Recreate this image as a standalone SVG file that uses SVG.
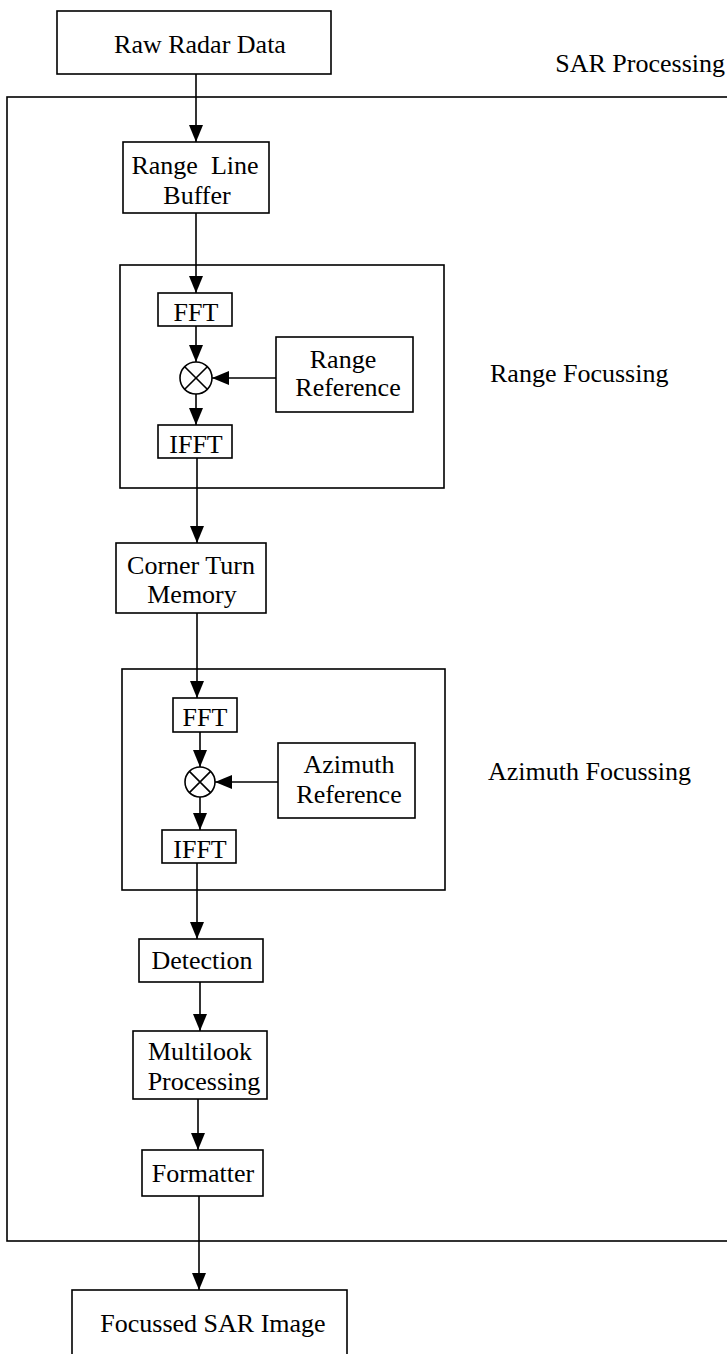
<svg xmlns="http://www.w3.org/2000/svg" width="727" height="1354" viewBox="0 0 727 1354">
<defs>
<marker id="ah" markerWidth="18" markerHeight="14" refX="17" refY="7" orient="auto" markerUnits="userSpaceOnUse">
<path d="M0,0 L17,7 L0,14 Z" fill="#000"/>
</marker>
<style>
.box{fill:#fff;stroke:#000;stroke-width:1.6}
.frame{fill:none;stroke:#000;stroke-width:1.6}
.t{font-family:"Liberation Serif","Times New Roman",serif;font-size:26px;fill:#000;text-anchor:middle}
.tl{font-family:"Liberation Serif","Times New Roman",serif;font-size:26px;fill:#000}
.c{fill:none;stroke:#000;stroke-width:1.6;marker-end:url(#ah)}
.x{fill:#fff;stroke:#000;stroke-width:1.6}
</style>
</defs>
<rect fill="#fff" width="727" height="1354"/>

<g id="sar-processing">
<rect class="frame" x="7" y="97" width="740" height="1144"/>
<text class="tl" x="725" y="72" text-anchor="end">SAR Processing</text>
</g>
<g id="range-focussing">
<rect class="frame" x="120" y="265" width="324" height="223"/>
<text class="tl" x="490" y="382">Range Focussing</text>
</g>
<g id="azimuth-focussing">
<rect class="frame" x="122" y="669" width="323" height="221"/>
<text class="tl" x="488" y="780">Azimuth Focussing</text>
</g>

<g id="connectors">
<path class="c" d="M196,74 V142"/>
<path class="c" d="M196,213 V293"/>
<path class="c" d="M196,326 V362"/>
<path class="c" d="M276,378 H212"/>
<path class="c" d="M196,394 V425"/>
<path class="c" d="M197,458 V543"/>
<path class="c" d="M197,613 V698"/>
<path class="c" d="M200,732 V767"/>
<path class="c" d="M278,782 H215"/>
<path class="c" d="M200,797 V830"/>
<path class="c" d="M197,863 V939"/>
<path class="c" d="M200,982 V1031"/>
<path class="c" d="M198,1099 V1150"/>
<path class="c" d="M199,1196 V1290"/>
</g>

<g id="raw-radar-data">
<rect class="box" x="57" y="11" width="274" height="63"/>
<text class="t" x="200" y="53">Raw Radar Data</text>
</g>
<g id="range-line-buffer">
<rect class="box" x="123" y="142" width="146" height="71"/>
<text class="t" x="195" y="174" xml:space="preserve">Range  Line</text>
<text class="t" x="197" y="204">Buffer</text>
</g>
<g id="fft-range">
<rect class="box" x="158" y="293" width="74" height="33"/>
<text class="t" x="196" y="321">FFT</text>
</g>
<g id="mult-range">
<circle class="x" cx="196" cy="378" r="16"/>
<path d="M184.7,366.7 L207.3,389.3 M207.3,366.7 L184.7,389.3" stroke="#000" stroke-width="1.6"/>
</g>
<g id="range-reference">
<rect class="box" x="276" y="337" width="137" height="75"/>
<text class="t" x="343" y="368">Range</text>
<text class="t" x="348" y="396">Reference</text>
</g>
<g id="ifft-range">
<rect class="box" x="158" y="425" width="74" height="33"/>
<text class="t" x="196" y="453">IFFT</text>
</g>
<g id="corner-turn-memory">
<rect class="box" x="116" y="543" width="150" height="70"/>
<text class="t" x="191" y="574">Corner Turn</text>
<text class="t" x="192" y="603">Memory</text>
</g>
<g id="fft-azimuth">
<rect class="box" x="173" y="698" width="64" height="34"/>
<text class="t" x="205" y="726">FFT</text>
</g>
<g id="mult-azimuth">
<circle class="x" cx="200" cy="782" r="15"/>
<path d="M189.4,771.4 L210.6,792.6 M210.6,771.4 L189.4,792.6" stroke="#000" stroke-width="1.6"/>
</g>
<g id="azimuth-reference">
<rect class="box" x="278" y="743" width="137" height="75"/>
<text class="t" x="349" y="773">Azimuth</text>
<text class="t" x="349" y="803">Reference</text>
</g>
<g id="ifft-azimuth">
<rect class="box" x="162" y="830" width="74" height="33"/>
<text class="t" x="200" y="858">IFFT</text>
</g>
<g id="detection">
<rect class="box" x="139" y="939" width="124" height="43"/>
<text class="t" x="202" y="969">Detection</text>
</g>
<g id="multilook-processing">
<rect class="box" x="133" y="1031" width="134" height="68"/>
<text class="t" x="200" y="1060">Multilook</text>
<text class="t" x="204" y="1090">Processing</text>
</g>
<g id="formatter">
<rect class="box" x="142" y="1150" width="121" height="46"/>
<text class="t" x="203" y="1182">Formatter</text>
</g>
<g id="focussed-sar-image">
<rect class="box" x="72" y="1290" width="275" height="70"/>
<text class="t" x="213" y="1332">Focussed SAR Image</text>
</g>
</svg>
